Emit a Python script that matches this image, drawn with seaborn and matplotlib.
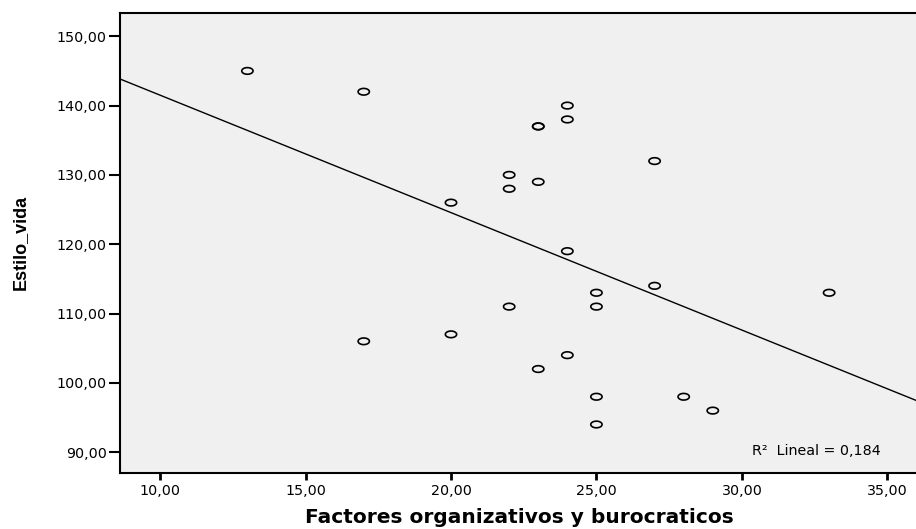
import numpy as np
import pandas as pd
import matplotlib
matplotlib.use("Agg")
import matplotlib.pyplot as plt
from matplotlib.path import Path
from matplotlib.ticker import FuncFormatter
import seaborn as sns

factores = [13, 17, 24, 24, 23, 23, 27, 22, 23, 22, 20, 24, 27, 33, 25,
            22, 25, 20, 17, 24, 23, 25, 28, 29, 25]
estilo = [145, 142, 140, 138, 137, 137, 132, 130, 129, 128, 126, 119, 114, 113, 113,
          111, 111, 107, 106, 104, 102, 98, 98, 96, 94]
x_ticks = [10, 15, 20, 25, 30, 35]
y_ticks = [90, 100, 110, 120, 130, 140, 150]
r2_text = "R\u00b2  Lineal = 0,184"
x_label = "Factores organizativos y burocraticos"
y_label = "Estilo_vida"

df = pd.DataFrame({x_label: factores, y_label: estilo})

sns.set_style("white")
plt.rcParams['font.family'] = ['DejaVu Sans']
plt.rcParams['text.color'] = 'black'
plt.rcParams['axes.labelcolor'] = 'black'
plt.rcParams['xtick.color'] = 'black'
plt.rcParams['ytick.color'] = 'black'

fig = plt.figure(figsize=(9.16, 5.29), dpi=100)
ax_h = (473 - 12.7) / 529
ax_w = 1 - 120/916 + 0.002
ax = fig.add_axes([120/916, 1-473/529, ax_w, ax_h])
ax.set_facecolor("#F0F0F0")
ax.set_xlim(8.62, 36.05)
ax.set_ylim(87.0, 153.4)

t = np.linspace(0, 2*np.pi, 49)
verts = np.column_stack([1.7*np.cos(t), 1.0*np.sin(t)])
ell = Path(verts, closed=True)

sns.regplot(data=df, x=x_label, y=y_label, ax=ax,
            ci=None, truncate=False, marker=ell,
            scatter_kws=dict(s=66, facecolors="none", edgecolors="black",
                             linewidths=1.2, alpha=1),
            line_kws=dict(color="black", lw=1.0))

ax.set_xlim(8.62, 36.05)
ax.set_ylim(87.0, 153.4)
ax.set_xticks(x_ticks)
ax.set_yticks(y_ticks)
fmt = FuncFormatter(lambda v, p: f"{v:.2f}".replace(".", ","))
ax.xaxis.set_major_formatter(fmt)
ax.yaxis.set_major_formatter(fmt)
ax.tick_params(axis="both", direction="out", labelsize=10.3, colors="black",
               bottom=True, left=True)
ax.tick_params(axis="y", length=8, width=1.5, pad=1.5)
ax.tick_params(axis="x", length=5, width=2, pad=3)
for s in ["left", "bottom", "top"]:
    ax.spines[s].set_visible(True)
    ax.spines[s].set_color("black")
    ax.spines[s].set_linewidth(1.5)
ax.spines["right"].set_visible(False)

ax.set_xlabel(x_label, fontsize=14.5, fontweight="bold")
ax.xaxis.set_label_coords(0.5, (473 - 508) / (ax_h * 529))
ax.set_ylabel(y_label, fontsize=13, fontweight="bold",
              family=['Liberation Sans', 'DejaVu Sans'])
ax.yaxis.set_label_coords((29 - 120) / (ax_w * 916), 0.5)

ax.text(752, 529 - 451, r2_text, transform=None, fontsize=10.3, ha="left", va="center")

fig.savefig("out.png", dpi=100)
